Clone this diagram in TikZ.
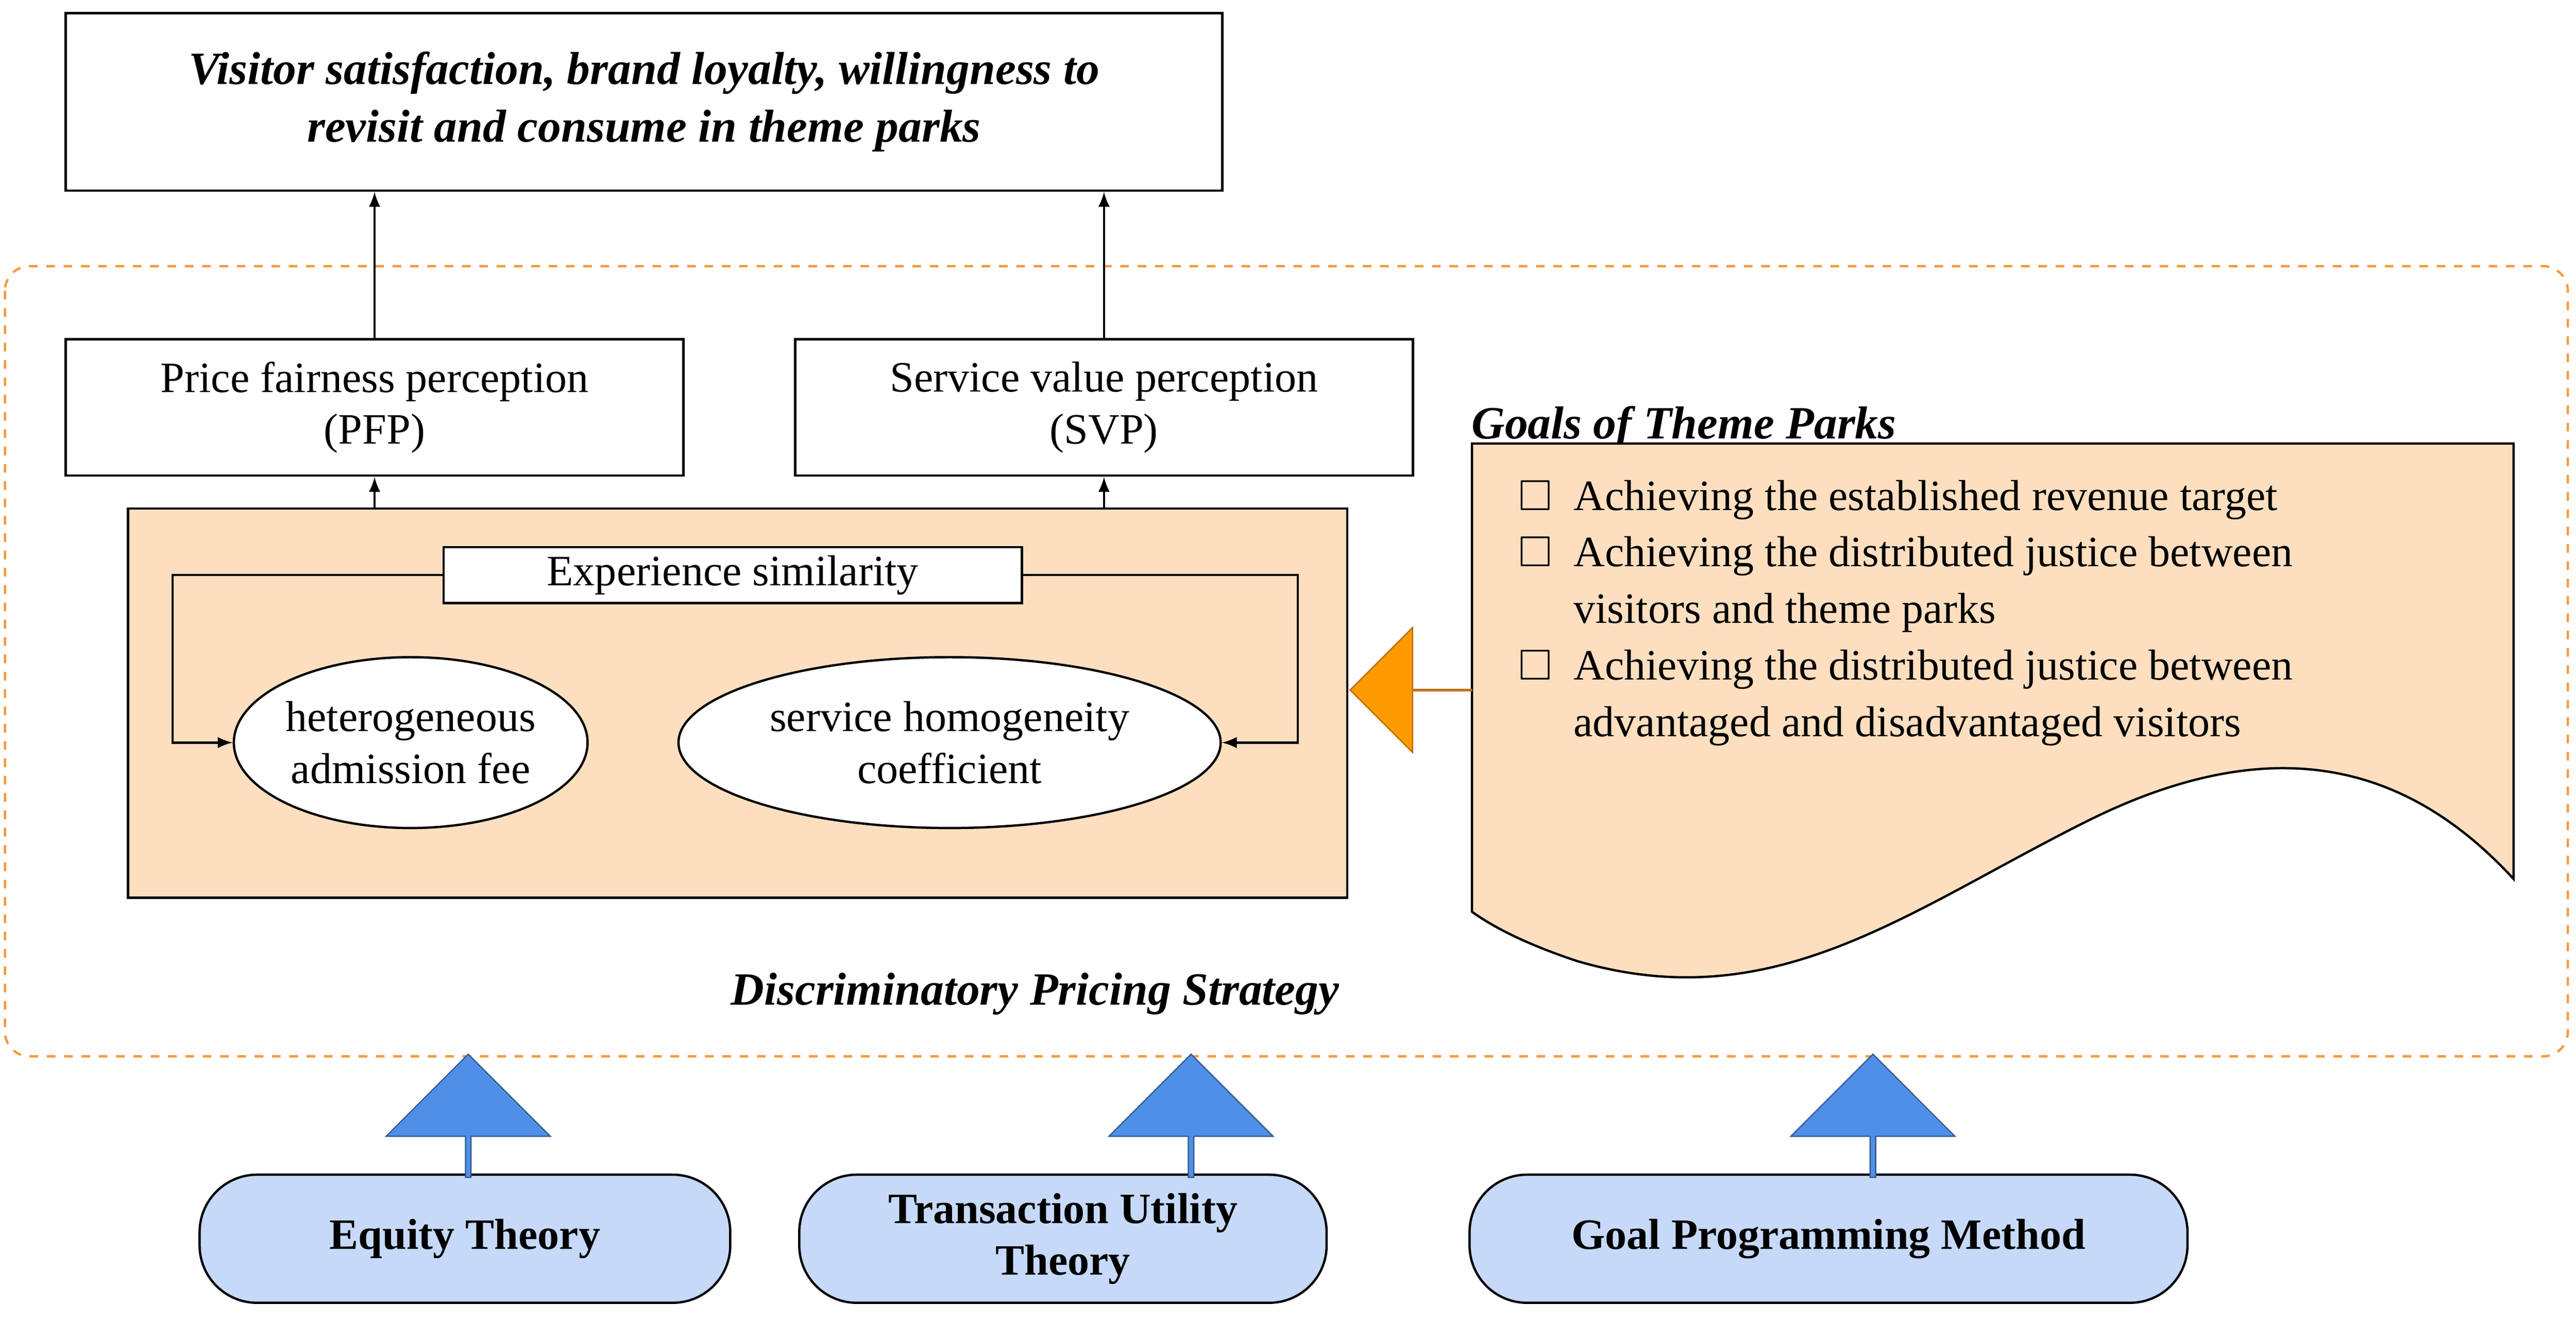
\documentclass[tikz,border=0pt]{standalone}
\usepackage{amssymb}
\usepackage{fontspec}
\setmainfont{Liberation Serif}
\usetikzlibrary{shapes.geometric,shapes.arrows}
\definecolor{peach}{HTML}{FDDFC0}
\definecolor{dashorange}{HTML}{F39A3C}
\definecolor{pillblue}{HTML}{C6D9F8}
\definecolor{arrowblue}{HTML}{4F8FE8}
\definecolor{arroworange}{HTML}{FF9900}
\begin{document}
\begin{tikzpicture}[x=0.2mm, y=-0.2mm, > = latex, font = \fontsize{15}{18}\selectfont]
\tikzset{
  block/.style = {draw, thick, fill = white, rectangle, align = center, inner sep = 0pt},
  oval/.style = {draw, thick, fill = white, ellipse, align = center, inner sep = 0pt},
  theory/.style = {draw, thick, fill = pillblue, rounded corners = 7mm, align = center, font = \fontsize{15}{18}\selectfont\bfseries, inner sep = 0pt},
  uparrow/.style = {draw = arrowblue!60!black, fill = arrowblue, single arrow, shape border rotate = 90, minimum width = 20mm, single arrow head extend = 2mm, minimum height = 15mm, inner sep = 0pt},
  title/.style = {font = \fontsize{16}{20}\selectfont\bfseries\itshape, align = center},
}
\useasboundingbox (0,0) rectangle (1568,804);
% frame of the strategy
\draw [dashorange, dashed, thick, rounded corners = 3mm] (3,162) rectangle (1563,643);
\node [title] at (630,605) {Discriminatory Pricing Strategy};
% top goal
\node [block, title, minimum width = 140.8mm, minimum height = 21.6mm] (outcome) at (392,62) {Visitor satisfaction, brand loyalty, willingness to\\revisit and consume in theme parks};
\node [block, minimum width = 75.2mm, minimum height = 16.6mm] (pfp) at (228,248) {Price fairness perception\\(PFP)};
\node [block, minimum width = 75.2mm, minimum height = 16.6mm] (svp) at (672,248) {Service value perception\\(SVP)};
% pricing core
\node [draw, thick, fill = peach, minimum width = 148.4mm, minimum height = 47.4mm] (core) at (449,428) {};
\node [block, minimum width = 70.4mm, minimum height = 6.8mm] (similarity) at (446,350) {Experience similarity};
\node [oval, minimum width = 39.2mm, minimum height = 20.8mm] (fee) at (250,452) {heterogeneous\\admission fee};
\node [oval, minimum width = 66mm, minimum height = 20.8mm] (coef) at (578,452) {service homogeneity\\coefficient};
\coordinate (pfpIn) at (228,310);
\coordinate (svpIn) at (672,310);
\draw [->, thick] (pfpIn) -- (pfp);
\draw [->, thick] (svpIn) -- (svp);
\draw [->, thick] (pfp) -- (pfp |- outcome.south);
\draw [->, thick] (svp) -- (svp |- outcome.south);
\draw [->, thick] (similarity.west) -- (105,350) |- (fee.west);
\draw [->, thick] (similarity.east) -- (790,350) |- (coef.east);
% goals of theme parks
\node [title] (goalsTitle) at (1025,260) {Goals of Theme Parks};
\draw [thick, fill = peach] (896,270) -- (1530,270) -- (1530,535)
  .. controls (1470,470) and (1390,440) .. (1270,500)
  .. controls (1160,555) and (1080,620) .. (960,585)
  .. controls (930,575) and (910,565) .. (896,555) -- cycle;
\node [anchor = north west, align = left, font = \fontsize{15}{19.6}\selectfont] (goalsList) at (918,286) {%
$\square$\enspace Achieving the established revenue target\\
$\square$\enspace Achieving the distributed justice between\\
\phantom{$\square$\enspace}visitors and theme parks\\
$\square$\enspace Achieving the distributed justice between\\
\phantom{$\square$\enspace}advantaged and disadvantaged visitors};
\node [draw = arroworange!70!black, fill = arroworange, single arrow, shape border rotate = 180, minimum width = 15.2mm, single arrow head extend = 6mm, minimum height = 14.8mm, inner sep = 0pt] (goalsArrow) at (859,420) {};
% theories
\node [theory, minimum width = 64.6mm, minimum height = 15.6mm] (equity) at (283,754) {Equity Theory};
\node [theory, minimum width = 64.2mm, minimum height = 15.6mm] (utility) at (647,754) {Transaction Utility\\Theory};
\node [theory, minimum width = 87.4mm, minimum height = 15.6mm] (programming) at (1113,754) {Goal Programming Method};
\node [uparrow] at (285,680) {};
\node [uparrow] at (725,680) {};
\node [uparrow] at (1140,680) {};
\end{tikzpicture}
\end{document}
